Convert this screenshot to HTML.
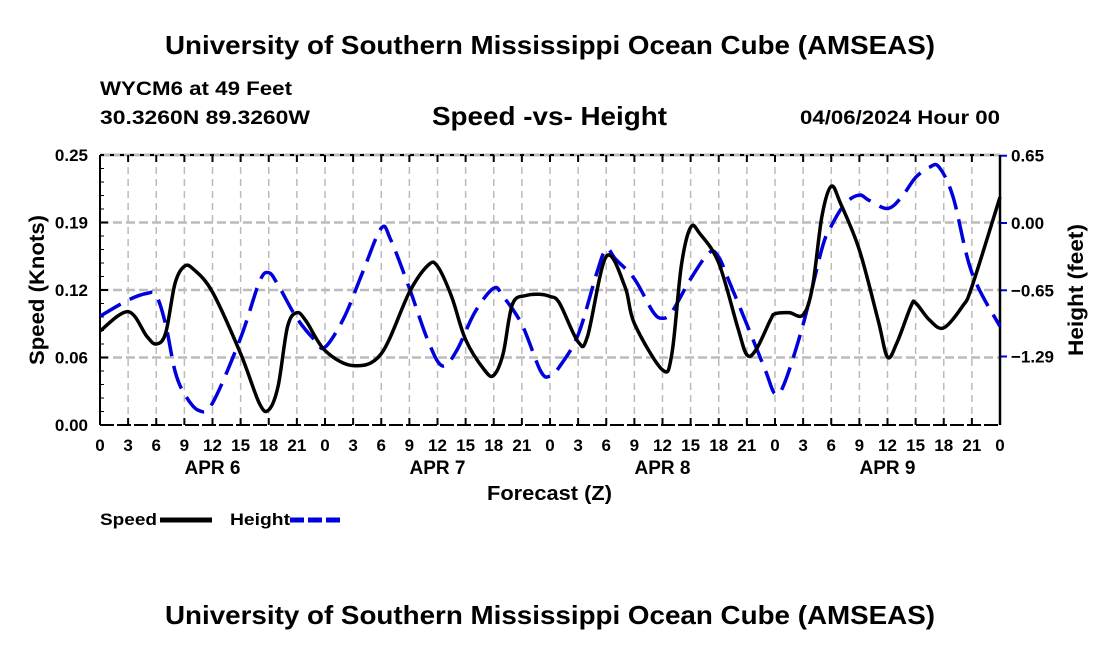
<!DOCTYPE html>
<html><head><meta charset="utf-8"><style>
body{margin:0;background:#fff}
svg text{font-family:"Liberation Sans",Arial,sans-serif;font-weight:bold;fill:#000}
</style></head><body>
<svg id="chart" width="1100" height="650" viewBox="0 0 1100 650" xmlns="http://www.w3.org/2000/svg">
<rect width="1100" height="650" fill="#fff"/>
<text x="165" y="54" font-size="26" textLength="770" lengthAdjust="spacingAndGlyphs">University of Southern Mississippi Ocean Cube (AMSEAS)</text>
<text x="100" y="95" font-size="19" textLength="192" lengthAdjust="spacingAndGlyphs">WYCM6 at 49 Feet</text>
<text x="100" y="124" font-size="19" textLength="210" lengthAdjust="spacingAndGlyphs">30.3260N  89.3260W</text>
<text x="432" y="125" font-size="26" textLength="235" lengthAdjust="spacingAndGlyphs">Speed -vs- Height</text>
<text x="800" y="124" font-size="19" textLength="200" lengthAdjust="spacingAndGlyphs">04/06/2024 Hour 00</text>
<g id="grid"></g>
<g id="axes"></g>
<g id="series"></g>
<text transform="translate(44,290) rotate(-90)" font-size="21" text-anchor="middle" textLength="150" lengthAdjust="spacingAndGlyphs">Speed (Knots)</text>
<text transform="translate(1083,290) rotate(-90)" font-size="21" text-anchor="middle" textLength="132" lengthAdjust="spacingAndGlyphs">Height (feet)</text>
<text x="487" y="500" font-size="20" textLength="125" lengthAdjust="spacingAndGlyphs">Forecast (Z)</text>
<g>
<text x="100" y="525" font-size="17" textLength="57" lengthAdjust="spacingAndGlyphs">Speed</text>
<line x1="160" y1="520" x2="212" y2="520" stroke="#000" stroke-width="5"/>
<text x="230" y="525" font-size="17" textLength="60" lengthAdjust="spacingAndGlyphs">Height</text>
<line x1="290" y1="520" x2="342" y2="520" stroke="#0000dd" stroke-width="5" stroke-dasharray="14,4"/>
</g>
<text x="165" y="624" font-size="26" textLength="770" lengthAdjust="spacingAndGlyphs">University of Southern Mississippi Ocean Cube (AMSEAS)</text>
</svg>
<script>
const speedHours=[0,3,5,6,7,8,9,10,12,15,17,18,19,20,21,22,24,27,30,33,35,36,37.5,39,41,42,43,44,45.5,47,48,49,51,52,54,56,57,60,61,62,63,64,66,68,69,70,71.5,72,73.5,75,76,77,78,79,81,83,84,85,86.5,87,88.5,90,92,93,96];
const speedValues=[0.087,0.105,0.082,0.075,0.085,0.131,0.147,0.144,0.123,0.066,0.020,0.014,0.036,0.091,0.104,0.096,0.069,0.055,0.066,0.123,0.148,0.147,0.119,0.079,0.051,0.046,0.066,0.112,0.120,0.121,0.119,0.113,0.077,0.082,0.156,0.128,0.094,0.051,0.066,0.147,0.183,0.177,0.150,0.091,0.065,0.070,0.097,0.103,0.104,0.102,0.128,0.193,0.221,0.205,0.162,0.097,0.063,0.076,0.110,0.113,0.097,0.090,0.110,0.128,0.211];
const heightHours=[0,3,5,6,7,8,9,10.5,12,15,17,18,19,21,23,24,26,28,30,31,33,35,36.5,38,40,42,43,45,47,48,49,51,53,54,55,57,59,60,61,63,65,66,67,69,71,72,73,75,77,78,79.5,81,82,84,85.5,87,88.5,89.5,91,93,96];
const heightValues=[-0.90,-0.745,-0.68,-0.70,-0.98,-1.43,-1.65,-1.81,-1.74,-1.11,-0.57,-0.48,-0.60,-0.92,-1.14,-1.20,-0.92,-0.48,-0.05,-0.16,-0.63,-1.14,-1.38,-1.24,-0.86,-0.63,-0.71,-0.98,-1.43,-1.48,-1.39,-1.08,-0.48,-0.25,-0.35,-0.54,-0.86,-0.92,-0.86,-0.54,-0.285,-0.33,-0.54,-0.98,-1.43,-1.65,-1.55,-0.98,-0.25,-0.03,0.19,0.27,0.22,0.14,0.25,0.44,0.54,0.54,0.25,-0.48,-1.00];
const speedTicks=[0,0.0625,0.125,0.1875,0.25];
const speedTickLabels=["0.00","0.06","0.12","0.19","0.25"];
const heightTicks=[0.65,0,-0.65,-1.29];
const heightTickLabels=["0.65","0.00","\u22120.65","\u22121.29"];
const dayLabels=["APR 6","APR 7","APR 8","APR 9"];

const X0=100,X1=1000,Y0=425,Y1=155;
const xs=h=>X0+(X1-X0)*h/96;
const ys=v=>Y0-(Y0-Y1)*v/0.25;
const hs=v=>223-v*103.5;
const NS="http://www.w3.org/2000/svg";
function mk(tag,attrs,parent){const e=document.createElementNS(NS,tag);for(const k in attrs)e.setAttribute(k,attrs[k]);parent.appendChild(e);return e;}
const grid=document.getElementById('grid'),axes=document.getElementById('axes'),series=document.getElementById('series');
for(let h=3;h<96;h+=3){const l=mk('line',{x1:xs(h),x2:xs(h),y1:Y1,y2:Y0,stroke:'#bbb','stroke-width':1.5,'stroke-dasharray':'7,5'},grid);

}
speedTicks.forEach((t,i)=>{if(t>0&&t<0.25){const l=mk('line',{x1:X0,x2:X1,y1:ys(t),y2:ys(t),stroke:'#bbb','stroke-width':2.5,'stroke-dasharray':'9,4'},grid);

}
const tx=mk('text',{x:88,y:ys(t)+6,'font-size':17,'text-anchor':'end'},axes);tx.textContent=speedTickLabels[i];


mk('line',{x1:X0,x2:X0+8,y1:ys(t),y2:ys(t),stroke:'#000','stroke-width':2},axes);});
for(let v=0;v<=0.25001;v+=0.0125)mk('line',{x1:X0,x2:X0+4,y1:ys(v),y2:ys(v),stroke:'#000','stroke-width':1},axes);
heightTicks.forEach((t,i)=>{mk('line',{x1:X1,x2:X1+7,y1:hs(t),y2:hs(t),stroke:'#0000dd','stroke-width':2},axes);
const tx=mk('text',{x:1011,y:hs(t)+6,'font-size':17},axes);tx.textContent=heightTickLabels[i];

});
mk('line',{x1:X0,x2:X1,y1:Y1,y2:Y1,stroke:'#bbb','stroke-width':3},axes);
mk('line',{x1:X0,x2:X1,y1:Y1,y2:Y1,stroke:'#000','stroke-width':2,'stroke-dasharray':'4,6'},axes);
mk('line',{x1:X0,x2:X1,y1:Y0,y2:Y0,stroke:'#000','stroke-width':2,'stroke-dasharray':'14,3'},axes);
mk('line',{x1:X0,x2:X0,y1:Y1,y2:Y0,stroke:'#000','stroke-width':2},axes);
mk('line',{x1:X1,x2:X1,y1:Y1,y2:Y0,stroke:'#000','stroke-width':2.5},axes);
for(let h=0;h<=96;h+=3){mk('line',{x1:xs(h),x2:xs(h),y1:Y0,y2:Y0-7,stroke:'#000','stroke-width':2},axes);
mk('line',{x1:xs(h),x2:xs(h),y1:Y1,y2:Y1+7,stroke:'#000','stroke-width':2},axes);
const tx=mk('text',{x:xs(h),y:451,'font-size':17,'text-anchor':'middle'},axes);tx.textContent=String(h%24);

}
dayLabels.forEach((d,i)=>{const tx=mk('text',{x:xs(12+24*i),y:474,'font-size':19,'text-anchor':'middle'},axes);tx.textContent=d;

});
function smooth(px){let d='M'+px[0][0]+','+px[0][1];for(let i=0;i<px.length-1;i++){const p0=px[Math.max(0,i-1)],p1=px[i],p2=px[i+1],p3=px[Math.min(px.length-1,i+2)];
d+=' C'+(p1[0]+(p2[0]-p0[0])/6)+','+(p1[1]+(p2[1]-p0[1])/6)+' '+(p2[0]-(p3[0]-p1[0])/6)+','+(p2[1]-(p3[1]-p1[1])/6)+' '+p2[0]+','+p2[1];}return d;}
const hp=mk('path',{d:smooth(heightHours.map((h,i)=>[xs(h),hs(heightValues[i])])),fill:'none',stroke:'#0000dd','stroke-width':3.5,'stroke-dasharray':'24,10'},series);


const sp=mk('path',{d:smooth(speedHours.map((h,i)=>[xs(h),ys(speedValues[i])])),fill:'none',stroke:'#000','stroke-width':3.5},series);


</script>
</body></html>
